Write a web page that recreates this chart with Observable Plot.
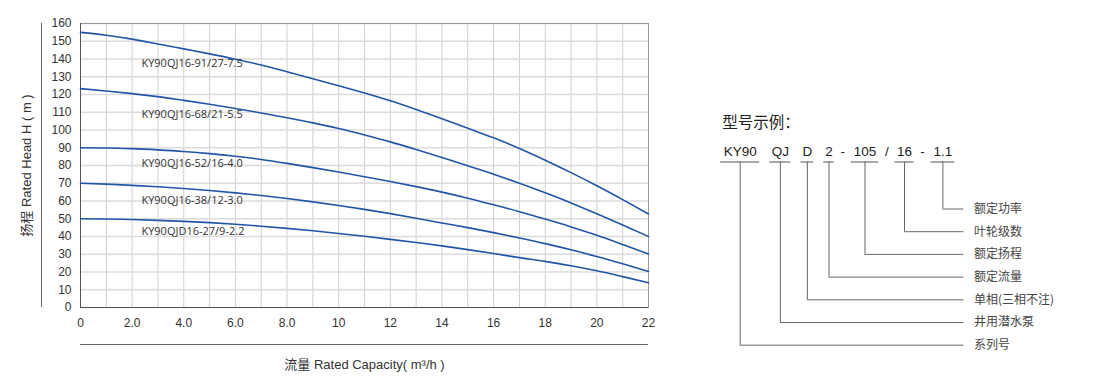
<!DOCTYPE html>
<html>
<head>
<meta charset="utf-8">
<script src="https://cdn.jsdelivr.net/npm/d3@7"></script>
<script src="https://cdn.jsdelivr.net/npm/@observablehq/plot@0.6"></script>
<style>
  html, body { margin: 0; padding: 0; background: #fff; }
  body { width: 1100px; height: 390px; position: relative; overflow: hidden; }
  #chart { position: absolute; left: 0; top: 0; }
  #diagram { position: absolute; left: 700px; top: 0; }
</style>
</head>
<body>
<div id="chart"></div>
<div id="diagram"></div>
<script>
// ---------- data ----------
const flow = [0,1,2,3,4,5,6,7,8,9,10,11,12,13,14,15,16,17,18,19,20,21,22];
const models = ["KY90QJ16-91/27-7.5","KY90QJ16-68/21-5.5","KY90QJ16-52/16-4.0","KY90QJ16-38/12-3.0","KY90QJD16-27/9-2.2"];
const head91 = [155,153.4,151.2,148.5,145.7,142.9,139.9,136.6,132.8,128.9,124.9,120.8,116.5,111.6,106.4,101,95.6,89.6,83.0,76.0,68.6,60.8,52.7];
const head68 = [123.3,122,120.5,118.8,116.7,114.5,112.1,109.6,106.9,104,100.8,97.2,93.3,89.0,84.5,79.8,75.1,70.0,64.6,58.9,52.8,46.5,40];
const head52 = [90,89.9,89.5,88.8,87.9,86.7,85.2,83.4,81.2,78.8,76.3,73.7,71.0,68.1,65.0,61.6,57.9,54.0,49.8,45.4,40.7,35.5,30.1];
const head38 = [70,69.5,68.8,68,67,65.9,64.6,63.1,61.4,59.5,57.5,55.3,52.9,50.3,47.6,45,42.2,39.2,36,32.5,28.7,24.6,20.3];
const head27 = [50,49.9,49.6,49.1,48.5,47.8,46.9,45.8,44.6,43.2,41.7,40.1,38.4,36.6,34.7,32.6,30.4,28.1,26.0,23.5,20.7,17.4,13.9];
const labelFlow = [2.36,2.36,2.36,2.36,2.36];
const labelHead = [137.4,108.6,81,60.2,42.9];
const xTicks = [0,2,4,6,8,10,12,14,16,18,20,22];
const xTickLabels = ["0","2.0","4.0","6.0","8.0","10","12","14","16","18","20","22"];
const yTicks = [0,10,20,30,40,50,60,70,80,90,100,110,120,130,140,150,160];
const xTitle = "流量 Rated Capacity( m³/h )";
const yTitle = "扬程 Rated Head H ( m )";

// model code example
const exampleTitle = "型号示例：";
const codeTokens = ["KY90","QJ","D","2","-","105","/","16","-","1.1"];
const codeMeaning = ["系列号","井用潜水泵","单相(三相不注)","额定流量",null,"额定扬程",null,"叶轮级数",null,"额定功率"];

// ---------- tidy table ----------
const series = [head91, head68, head52, head38, head27];
const table = [];
series.forEach((s, k) => s.forEach((h, i) => table.push({model: models[k], flow: flow[i], head: h})));
const labels = models.map((m, k) => ({model: m, flow: labelFlow[k], head: labelHead[k]}));

const FONT = "'Liberation Sans', Arial, 'Noto Sans CJK SC', sans-serif";

// decoration: extra guide lines outside frame
const guides = (index, scales, values, dims) => {
  const g = d3.create("svg:g").attr("stroke", "#666").attr("stroke-width", 1);
  const x0 = dims.marginLeft, x1 = dims.width - dims.marginRight;
  const y0 = dims.marginTop, y1 = dims.height - dims.marginBottom;
  g.append("line").attr("x1", x0 - 38.5).attr("x2", x0 - 38.5).attr("y1", y0).attr("y2", y1);
  g.append("line").attr("x1", x0).attr("x2", x1).attr("y1", y1 + 37.5).attr("y2", y1 + 37.5);
  return g.node();
};

const chart = Plot.plot({
  width: 700,
  height: 390,
  marginLeft: 80,
  marginRight: 52,
  marginTop: 23,
  marginBottom: 83,
  x: {domain: [0, 22]},
  y: {domain: [0, 160]},
  style: {fontFamily: FONT, fontSize: "12px", color: "#333", background: "transparent"},
  marks: [
    Plot.gridX(flow, {stroke: "#d0d0d0", strokeOpacity: 1}),
    Plot.gridY(yTicks, {stroke: "#dcdcdc", strokeOpacity: 1, strokeWidth: 1.5}),
    Plot.frame({stroke: "#999"}),
    Plot.ruleX([0], {stroke: "#555"}),
    Plot.ruleY([0], {stroke: "#555"}),
    Plot.axisX(xTicks, {tickSize: 0, tickPadding: 11, tickFormat: d => xTickLabels[xTicks.indexOf(d)],
      label: null, fontSize: 12, fill: "#333"}),
    Plot.axisY(yTicks, {tickSize: 0, tickPadding: 9, label: null, fontSize: 12, fill: "#333"}),
    Plot.axisX({ticks: [], label: xTitle, labelAnchor: "center", labelOffset: 61, labelArrow: "none",
      fontSize: 13, fill: "#333", tickSize: 0}),
    Plot.axisY({ticks: [], label: yTitle, labelAnchor: "center", labelOffset: 59, labelArrow: "none",
      fontSize: 13, fill: "#333", tickSize: 0}),
    Plot.line(table, {x: "flow", y: "head", z: "model", stroke: "#2255a6", strokeWidth: 1.6, curve: "monotone-x"}),
    Plot.text(labels, {x: "flow", y: "head", text: "model", textAnchor: "start", fontSize: 11,
      fill: "#333", fontFamily: "'Open Sans', 'Noto Sans', sans-serif"}),
    guides
  ]
});
document.getElementById("chart").appendChild(chart);

// ---------- model code diagram ----------
const codeSize = 13.5;
const ctx = document.createElement("canvas").getContext("2d");
ctx.font = `${codeSize}px 'Liberation Sans', Arial, sans-serif`;
const letterSp = 1;
const widthOf = t => ctx.measureText(t).width + letterSp * (t.length - 1);
const startX = 21.7, gapMain = 13, gapSep = 7.75;
let cur = startX;
const tokens = codeTokens.map((t, i) => {
  if (i > 0) {
    const sep = t === "-" || t === "/" || codeTokens[i - 1] === "-" || codeTokens[i - 1] === "/";
    cur += sep ? gapSep : gapMain;
  }
  const w = widthOf(t);
  const o = {t, x1: cur, x2: cur + w, cx: cur + w / 2, meaning: codeMeaning[i]};
  cur += w;
  return o;
});
const named = tokens.filter(d => d.meaning);
named.forEach((d, i) => d.row = named.length - 1 - i);
const rowY = r => 208.5 + r * 22.7;
const underY = 161.5, codeY = 151.5, lineEnd = 263.3, textX = 273.5;

const diagram = Plot.plot({
  width: 400,
  height: 390,
  margin: 0,
  x: {type: "identity"},
  y: {type: "identity"},
  axis: null,
  style: {fontFamily: FONT, background: "transparent"},
  marks: [
    Plot.text([exampleTitle], {x: startX, y: 122.5, text: d => d, textAnchor: "start", fontSize: 15.5,
      fill: "#222", fontFamily: "'Noto Sans CJK SC', sans-serif"}),
    Plot.text(tokens, {x: "cx", y: codeY, text: "t", fontSize: codeSize, fill: "#222",
      fontFamily: "'Liberation Sans', Arial, sans-serif", letterSpacing: "1px"}),
    Plot.ruleY(named, {y: underY, x1: d => d.x1 - 1.5, x2: d => d.x2 + 1.5, stroke: "#555", strokeWidth: 1}),
    Plot.ruleX(named, {x: "cx", y1: underY, y2: d => rowY(d.row), stroke: "#666", strokeWidth: 1}),
    Plot.ruleY(named, {y: d => rowY(d.row), x1: "cx", x2: lineEnd, stroke: "#666", strokeWidth: 1}),
    Plot.text(named, {x: textX, y: d => rowY(d.row), text: "meaning", textAnchor: "start", fontSize: 12,
      fill: "#444", fontFamily: "'Noto Sans CJK SC', sans-serif"})
  ]
});
document.getElementById("diagram").appendChild(diagram);
</script>
</body>
</html>
